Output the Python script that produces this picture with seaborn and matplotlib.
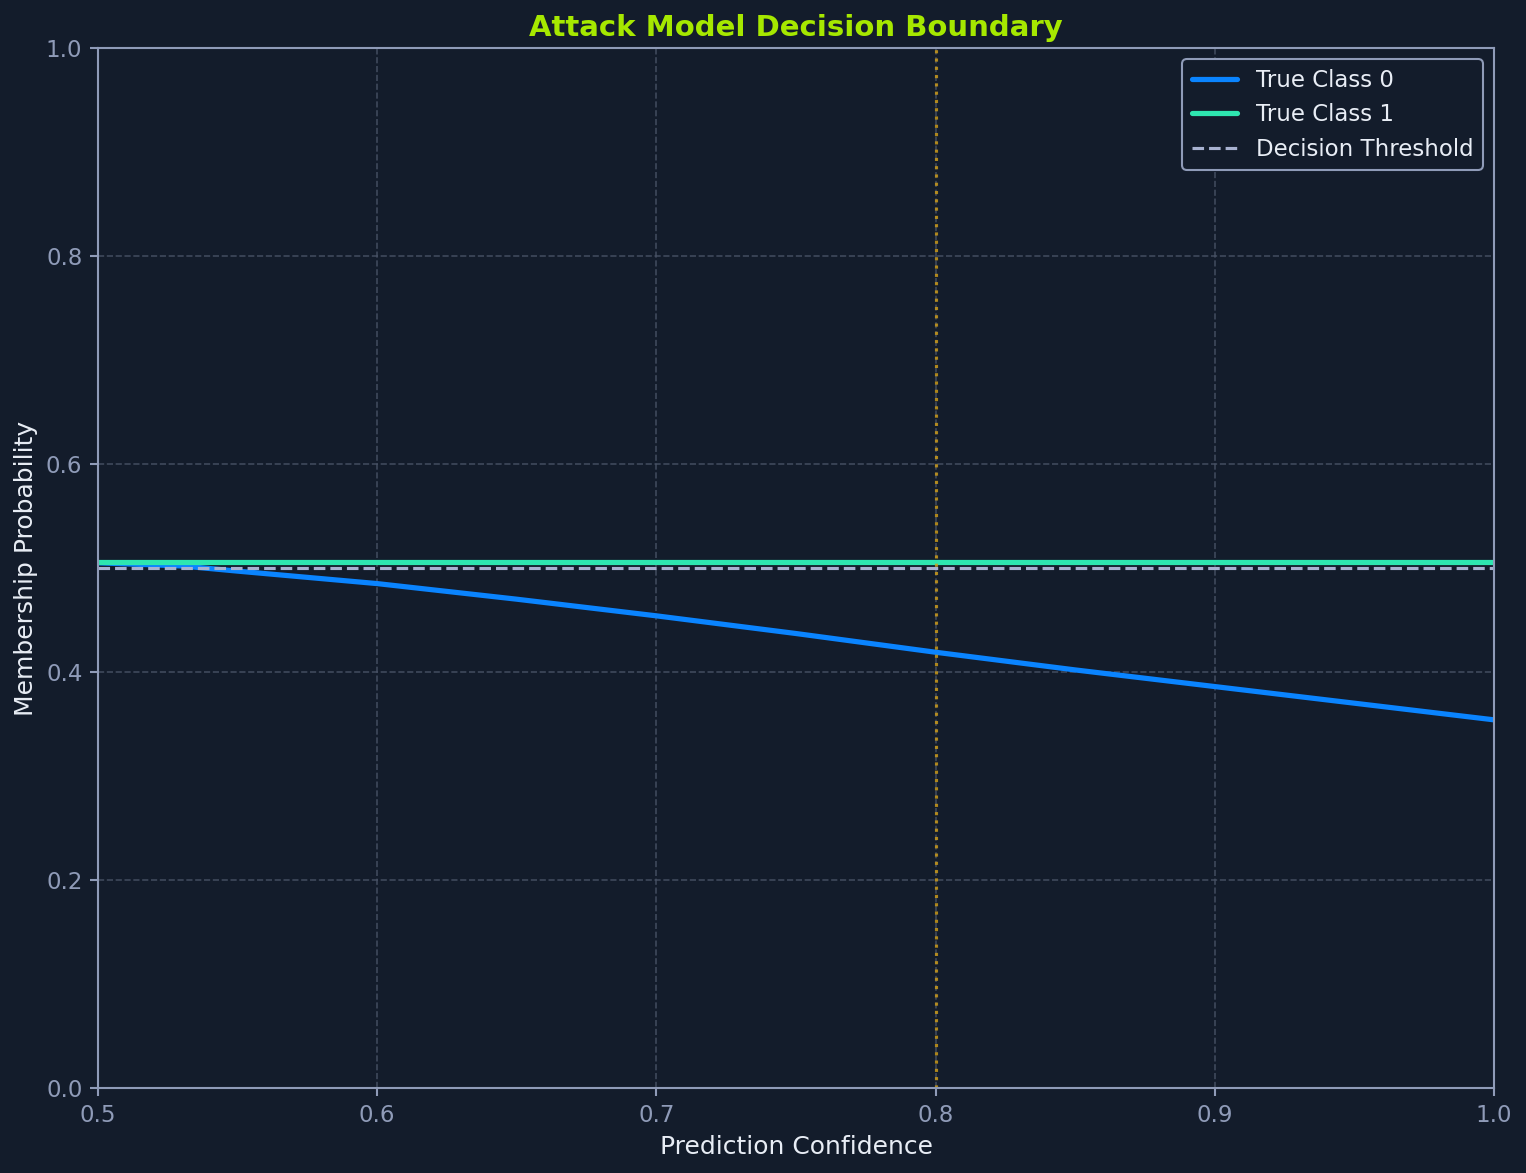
import matplotlib
matplotlib.use("Agg")
import matplotlib.pyplot as plt
import seaborn as sns
import pandas as pd

confidence = [0.50, 0.53, 0.55, 0.60, 0.65, 0.70, 0.75, 0.80, 0.85, 0.90, 0.95, 1.00]
class0_prob = [0.505, 0.502, 0.497, 0.485, 0.470, 0.454, 0.437, 0.419, 0.402, 0.386, 0.370, 0.354]
class1_prob = [0.506, 0.506, 0.506, 0.506, 0.506, 0.506, 0.506, 0.506, 0.506, 0.506, 0.506, 0.506]
threshold = 0.5
boundary_x = 0.8

BG = "#131c2b"
SPINE = "#8f9bb8"
TEXT = "#e8edf5"

sns.set_theme(style="dark")
plt.rcParams["font.family"] = ["DejaVu Sans"]

fig = plt.figure(figsize=(1526/150, 1173/150), dpi=150, facecolor=BG)
ax = fig.add_axes([98/1526, 1 - 1088/1173, (1494-98)/1526, (1088-48)/1173])
ax.set_facecolor(BG)

df0 = pd.DataFrame({"x": confidence, "y": class0_prob})
df1 = pd.DataFrame({"x": confidence, "y": class1_prob})
sns.lineplot(data=df0, x="x", y="y", ax=ax, color="#0a84ff", lw=2.5, label="True Class 0")
sns.lineplot(data=df1, x="x", y="y", ax=ax, color="#2ee6b0", lw=2.5, label="True Class 1")
ax.axhline(threshold, color="#a8b2d1", ls="--", lw=1.5, label="Decision Threshold")
ax.axvline(boundary_x, color="#d4a017", ls=":", lw=1.5, alpha=0.8)

ax.set_xlim(0.5, 1.0)
ax.set_ylim(0.0, 1.0)
ax.grid(True, color="#4a5468", ls="--", lw=0.8, alpha=0.8)
for s in ax.spines.values():
    s.set_color(SPINE)
    s.set_linewidth(1.0)
    s.set_visible(True)
ax.tick_params(colors=SPINE, labelsize=11, length=4, width=1, bottom=True, left=True)
ax.set_xlabel("Prediction Confidence", color=TEXT, fontsize=12)
ax.set_ylabel("Membership Probability", color=TEXT, fontsize=12)
ax.set_title("Attack Model Decision Boundary", color="#a6e800", fontsize=14, fontweight="bold", pad=6)

leg = ax.legend(loc="upper right", facecolor=BG, edgecolor=SPINE, fontsize=11, framealpha=1)
for t in leg.get_texts():
    t.set_color(TEXT)

fig.savefig("out.png", dpi=150, facecolor=BG)
